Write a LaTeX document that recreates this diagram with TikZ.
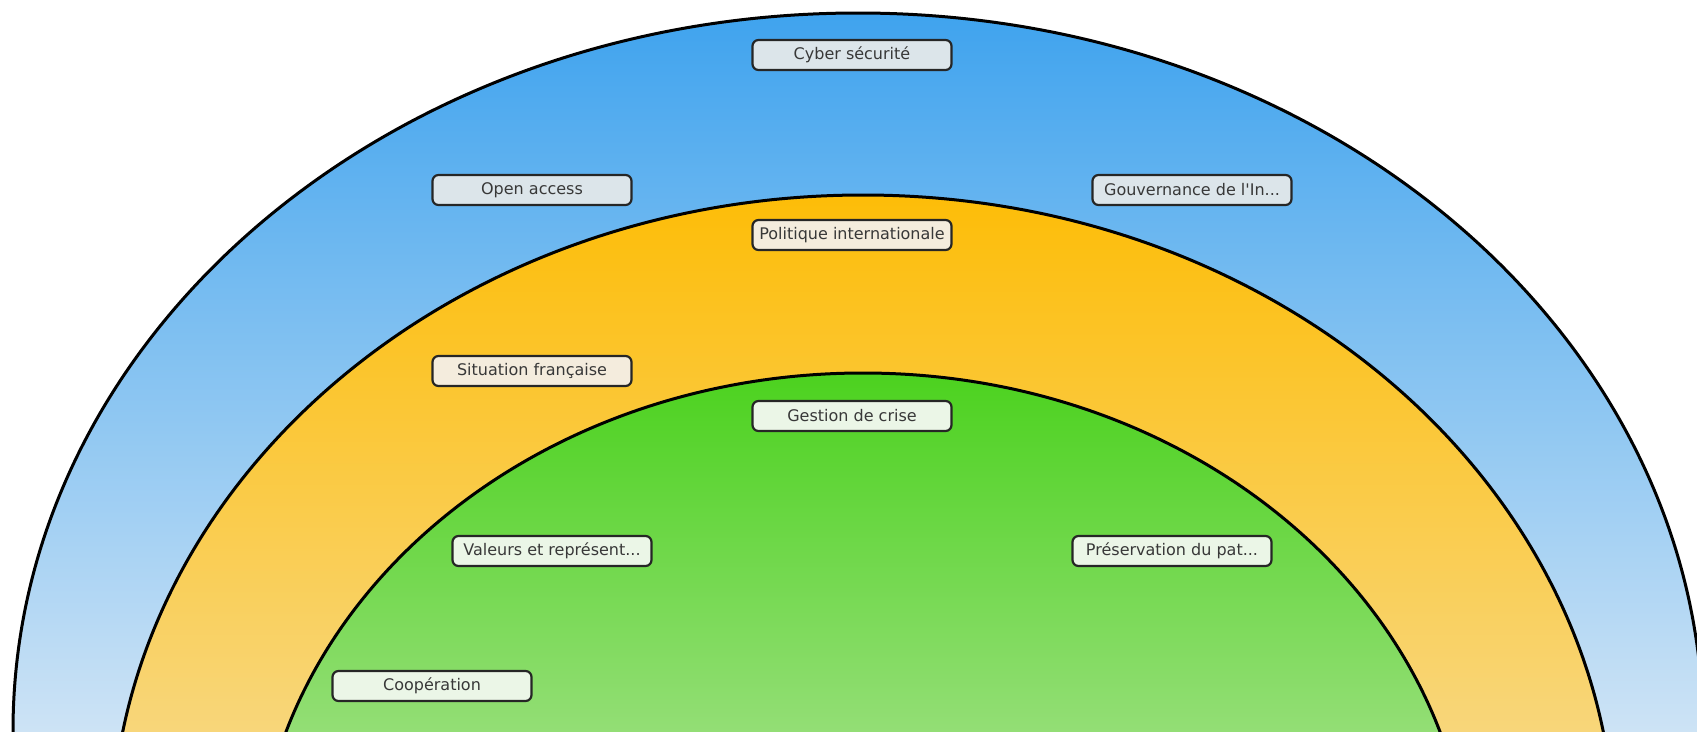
\documentclass[tikz,border=0pt]{standalone}
\usepackage{fontspec}
\setmainfont{DejaVu Sans}
\usetikzlibrary{calc}

\definecolor{skytop}{HTML}{3FA3EE}
\definecolor{skybot}{HTML}{CDE3F5}
\definecolor{suntop}{HTML}{FDBD08}
\definecolor{sunbot}{HTML}{F8D67A}
\definecolor{leaftop}{HTML}{4CD21F}
\definecolor{leafbot}{HTML}{93DE75}
\definecolor{skybox}{HTML}{DCE5EA}
\definecolor{sunbox}{HTML}{F4ECDD}
\definecolor{leafbox}{HTML}{EBF6E7}

\begin{document}
\begin{tikzpicture}[x=1pt,y=-1pt,
    topic/.style={draw=black!85,line width=2.2pt,rounded corners=6pt,
      minimum width=199pt,minimum height=30pt,inner sep=0pt,
      text=black!78,font=\fontsize{16}{18}\selectfont},
    rim/.style={draw=black,line width=3pt}]
            \clip (0,0) rectangle (1697,731);

            \coordinate (outer) at (858,731);
            \coordinate (middle) at (863,847);
            \coordinate (inner) at (863,894);

            \begin{scope}
              \clip (outer) ellipse [x radius=845pt, y radius=718pt];
              \shade[top color=skytop,bottom color=skybot] (0,13) rectangle (1697,731);
            \end{scope}
            \draw[rim] (outer) ellipse [x radius=845pt, y radius=718pt];

            \begin{scope}
              \clip (middle) ellipse [x radius=752pt, y radius=652pt];
              \shade[top color=suntop,bottom color=sunbot] (0,195) rectangle (1697,731);
            \end{scope}
            \draw[rim] (middle) ellipse [x radius=752pt, y radius=652pt];

            \begin{scope}
              \clip (inner) ellipse [x radius=607pt, y radius=521pt];
              \shade[top color=leaftop,bottom color=leafbot] (0,373) rectangle (1697,731);
            \end{scope}
            \draw[rim] (inner) ellipse [x radius=607pt, y radius=521pt];

            \node[topic,fill=skybox] (cyber) at (852,55) {Cyber sécurité};
            \node[topic,fill=skybox] (open) at (532,190) {Open access};
            \node[topic,fill=skybox] (gouv) at (1192,190) {Gouvernance de l\textquotesingle In...};

            \node[topic,fill=sunbox] (politique) at (852,235) {Politique internationale};
            \node[topic,fill=sunbox] (situation) at (532,371) {Situation française};

            \node[topic,fill=leafbox] (crise) at (852,416) {Gestion de crise};
            \node[topic,fill=leafbox] (valeurs) at (552,551) {Valeurs et représent...};
            \node[topic,fill=leafbox] (patrimoine) at (1172,551) {Préservation du pat...};
            \node[topic,fill=leafbox] (coop) at (432,686) {Coopération};

        \end{tikzpicture}
\end{document}
